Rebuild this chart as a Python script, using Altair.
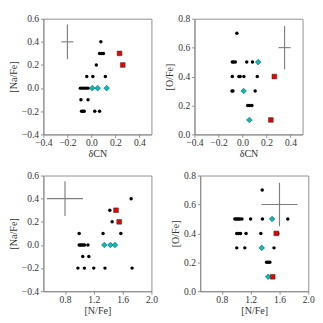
import altair as alt
import pandas as pd

# ---------- Panel 1: dCN vs [Na/Fe] ----------
p1_black_x = [0.079, 0.068, 0.084, 0.100, 0.041, -0.039, 0.012, 0.116,
              -0.092, -0.076, -0.060, -0.044, -0.028, -0.087, -0.028,
              -0.082, -0.071, -0.060, 0.028, 0.068]
p1_black_y = [0.4, 0.3, 0.3, 0.3, 0.2, 0.1, 0.1, 0.1,
              0.0, 0.0, 0.0, 0.0, 0.0, -0.1, -0.1,
              -0.2, -0.2, -0.2, -0.2, -0.2]
p1_cyan_x = [0.007, 0.052, 0.127]
p1_cyan_y = [0.0, 0.0, 0.0]
p1_red_x = [0.234, 0.261]
p1_red_y = [0.3, 0.2]
p1_err = [-0.2, 0.4, 0.05, 0.15]  # x, y, xerr, yerr

# ---------- Panel 2: dCN vs [O/Fe] ----------
p2_black_x = [-0.047, -0.085, -0.075, -0.060, 0.035, 0.083,
              -0.085, -0.030, -0.020, 0.011, 0.123,
              -0.088, -0.080, 0.105, 0.043, 0.060, 0.078]
p2_black_y = [0.7, 0.5, 0.5, 0.5, 0.5, 0.5,
              0.4, 0.4, 0.4, 0.4, 0.4,
              0.3, 0.3, 0.3, 0.2, 0.2, 0.2]
p2_cyan_x = [0.130, 0.009, 0.057]
p2_cyan_y = [0.5, 0.3, 0.1]
p2_red_x = [0.265, 0.236]
p2_red_y = [0.4, 0.1]
p2_err = [0.35, 0.6, 0.05, 0.15]

# ---------- Panel 3: [N/Fe] vs [Na/Fe] ----------
p3_black_x = [1.718, 1.422, 1.454, 0.997, 1.328, 1.575,
              0.997, 1.015, 1.033, 1.050, 1.070, 1.118,
              1.046, 1.131, 0.979, 1.069, 1.199, 1.355, 1.731]
p3_black_y = [0.4, 0.3, 0.2, 0.1, 0.1, 0.1,
              0.0, 0.0, 0.0, 0.0, 0.0, 0.0,
              -0.1, -0.1, -0.2, -0.2, -0.2, -0.2, -0.2]
p3_cyan_x = [1.346, 1.431, 1.494]
p3_cyan_y = [0.0, 0.0, 0.0]
p3_red_x = [1.508, 1.552]
p3_red_y = [0.3, 0.2]
p3_err = [0.8, 0.4, 0.25, 0.15]

# ---------- Panel 4: [N/Fe] vs [O/Fe] ----------
p4_black_x = [1.360, 0.980, 0.998, 1.016, 1.034, 1.052, 1.079, 1.199, 1.363, 1.715,
              1.007, 1.034, 1.060, 1.136, 1.341, 1.577,
              1.007, 1.119, 1.524, 1.421, 1.443, 1.466]
p4_black_y = [0.7, 0.5, 0.5, 0.5, 0.5, 0.5, 0.5, 0.5, 0.5, 0.5,
              0.4, 0.4, 0.4, 0.4, 0.4, 0.4,
              0.3, 0.3, 0.3, 0.2, 0.2, 0.2]
p4_cyan_x = [1.497, 1.354, 1.443]
p4_cyan_y = [0.5, 0.3, 0.1]
p4_red_x = [1.555, 1.506]
p4_red_y = [0.4, 0.1]
p4_err = [1.6, 0.6, 0.25, 0.15]

FONT = "Liberation Serif"
W, H = 113, 121


def panel(bx, by, cx, cy, rx, ry, err, xdom, xticks, xtitle, ydom, yticks, ytitle):
    xs = alt.Scale(domain=xdom, nice=False, zero=False)
    ys = alt.Scale(domain=ydom, nice=False, zero=False)
    xax = alt.Axis(values=xticks, format=".1f", title=xtitle, grid=False,
                   labelOverlap=False, labelFlush=False)
    yax = alt.Axis(values=yticks, format=".1f", title=ytitle, grid=False,
                   labelOverlap=False, labelFlush=False)

    def X(f):
        return alt.X(f, scale=xs, axis=xax)

    def Y(f):
        return alt.Y(f, scale=ys, axis=yax)

    black = pd.DataFrame({"x": bx, "y": by})
    cyan = pd.DataFrame({"x": cx, "y": cy})
    red = pd.DataFrame({"x": rx, "y": ry})
    e = pd.DataFrame({"x": [err[0]], "y": [err[1]],
                      "xlo": [err[0] - err[2]], "xhi": [err[0] + err[2]],
                      "ylo": [err[1] - err[3]], "yhi": [err[1] + err[3]]})

    hbar = alt.Chart(e).mark_rule(color="#7f7f7f", strokeWidth=1.2).encode(
        x=X("xlo:Q"), x2="xhi:Q", y=Y("y:Q"))
    vbar = alt.Chart(e).mark_rule(color="#7f7f7f", strokeWidth=1.2).encode(
        x=X("x:Q"), y=Y("ylo:Q"), y2="yhi:Q")
    b = alt.Chart(black).mark_circle(color="black", size=13, opacity=1).encode(
        x=X("x:Q"), y=Y("y:Q"))
    c = alt.Chart(cyan).mark_point(shape="diamond", filled=True, fill="#00BFBF",
                                   stroke="#1a4d4d", strokeWidth=0.6, size=34,
                                   opacity=1).encode(x=X("x:Q"), y=Y("y:Q"))
    r = alt.Chart(red).mark_square(fill="#EE0000", stroke="#333333",
                                   strokeWidth=0.6, size=24, opacity=1).encode(
        x=X("x:Q"), y=Y("y:Q"))
    return alt.layer(hbar, vbar, b, c, r).properties(width=W, height=H)


dcn_ticks = [-0.4, -0.2, 0.0, 0.2, 0.4]
nfe_ticks = [0.8, 1.2, 1.6, 2.0]
na_ticks = [-0.4, -0.2, 0.0, 0.2, 0.4, 0.6]
o_ticks = [0.0, 0.2, 0.4, 0.6, 0.8]

c1 = panel(p1_black_x, p1_black_y, p1_cyan_x, p1_cyan_y, p1_red_x, p1_red_y, p1_err,
           [-0.4, 0.5], dcn_ticks, "δCN", [-0.4, 0.6], na_ticks, "[Na/Fe]")
c2 = panel(p2_black_x, p2_black_y, p2_cyan_x, p2_cyan_y, p2_red_x, p2_red_y, p2_err,
           [-0.4, 0.5], dcn_ticks, "δCN", [0.0, 0.8], o_ticks, "[O/Fe]")
c3 = panel(p3_black_x, p3_black_y, p3_cyan_x, p3_cyan_y, p3_red_x, p3_red_y, p3_err,
           [0.5, 2.0], nfe_ticks, "[N/Fe]", [-0.4, 0.6], na_ticks, "[Na/Fe]")
c4 = panel(p4_black_x, p4_black_y, p4_cyan_x, p4_cyan_y, p4_red_x, p4_red_y, p4_err,
           [0.5, 2.0], nfe_ticks, "[N/Fe]", [0.0, 0.8], o_ticks, "[O/Fe]")

chart = alt.vconcat(
    alt.hconcat(c1, c2, spacing=13),
    alt.hconcat(c3, c4, spacing=13),
    spacing=11,
).properties(
    padding={"left": 0, "top": -2, "right": 0, "bottom": 0},
    background="white",
).configure_view(
    stroke="#8c8c8c", strokeWidth=1
).configure_axis(
    labelFont=FONT, titleFont=FONT, labelFontSize=10, titleFontSize=10.5,
    labelColor="#333333", titleColor="#333333", titleFontWeight="normal",
    domainColor="#8c8c8c", tickColor="#8c8c8c", tickSize=3,
).configure_axisX(
    labelPadding=1, titleY=23, titleBaseline="alphabetic",
).configure_axisY(
    labelPadding=2, titlePadding=3,
)

chart.save("out.html", embed_options={"renderer": "svg", "actions": False})
